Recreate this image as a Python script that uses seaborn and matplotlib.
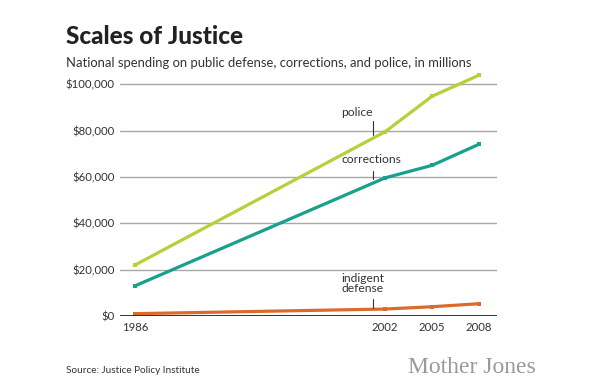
import pandas as pd
import numpy as np
import matplotlib.pyplot as plt
import seaborn as sns

# values (millions of dollars)
years = [1986, 2002, 2005, 2008]
police = [22000, 79500, 94800, 103900]
corrections = [13000, 59600, 65000, 74100]
indigent_defense = [1000, 3000, 4000, 5300]

yticks = [0, 20000, 40000, 60000, 80000, 100000]
ytick_labels = ['$0', '$20,000', '$40,000', '$60,000', '$80,000', '$100,000']

df = pd.DataFrame({
    'Year': years * 3,
    'Spending': police + corrections + indigent_defense,
    'Category': ['police'] * 4 + ['corrections'] * 4 + ['indigent defense'] * 4,
})

palette = {'police': '#b3d23a', 'corrections': '#17a08c', 'indigent defense': '#dc6a2c'}

sns.set_style('white')
plt.rcParams['font.family'] = ['Lato', 'DejaVu Sans']

fig = plt.figure(figsize=(6.09, 3.81), dpi=100)
ax = fig.add_axes([0.197, 0.1706, 0.619, 0.657])

sns.lineplot(data=df, x='Year', y='Spending', hue='Category', palette=palette,
             marker='s', markersize=3.5, markeredgewidth=0, linewidth=2.3,
             legend=False, ax=ax, zorder=3)

ax.set_xlim(1985.04, 2009.15)
ax.set_ylim(0, 108000)
ax.set_yticks(yticks)
ax.set_yticklabels(ytick_labels)
ax.set_xticks(years)
ax.set_xticklabels([str(y) for y in years])
ax.set_xlabel('')
ax.set_ylabel('')

for y in yticks[1:]:
    ax.axhline(y, color='#a8a8a8', linewidth=1, zorder=1)
ax.axhline(0, color='#222222', linewidth=1.3, zorder=4)

sns.despine(ax=ax, left=True, bottom=True)
ax.tick_params(axis='both', length=0, labelsize=8.2, colors='#333333')
ax.tick_params(axis='y', pad=4)
ax.tick_params(axis='x', pad=4)

# series labels with small leader ticks
lab = dict(fontsize=8.7, color='#333333', ha='left', va='bottom')
tick_x = 2001.2
ax.text(1999.2, 85500, 'police', **lab)
ax.plot([tick_x, tick_x], [78000, 84000], color='#333333', linewidth=0.8, zorder=5)
ax.text(1999.2, 65000, 'corrections', **lab)
ax.plot([tick_x, tick_x], [58900, 62600], color='#333333', linewidth=0.8, zorder=5)
ax.text(1999.2, 9300, 'indigent\ndefense', linespacing=0.95, **lab)
ax.plot([tick_x, tick_x], [3400, 7300], color='#333333', linewidth=0.8, zorder=5)

fig.text(0.108, 0.885, 'Scales of Justice', fontsize=17.5, fontweight='black', color='#222222')
fig.text(0.108, 0.825, 'National spending on public defense, corrections, and police, in millions',
         fontsize=9.35, color='#333333')
fig.text(0.108, 0.022, 'Source: Justice Policy Institute', fontsize=7.2, color='#333333')
fig.text(0.67, 0.02, 'Mother Jones', fontsize=17, color='#9a9a9a', family='Liberation Serif')

fig.savefig('out.png', dpi=100)
